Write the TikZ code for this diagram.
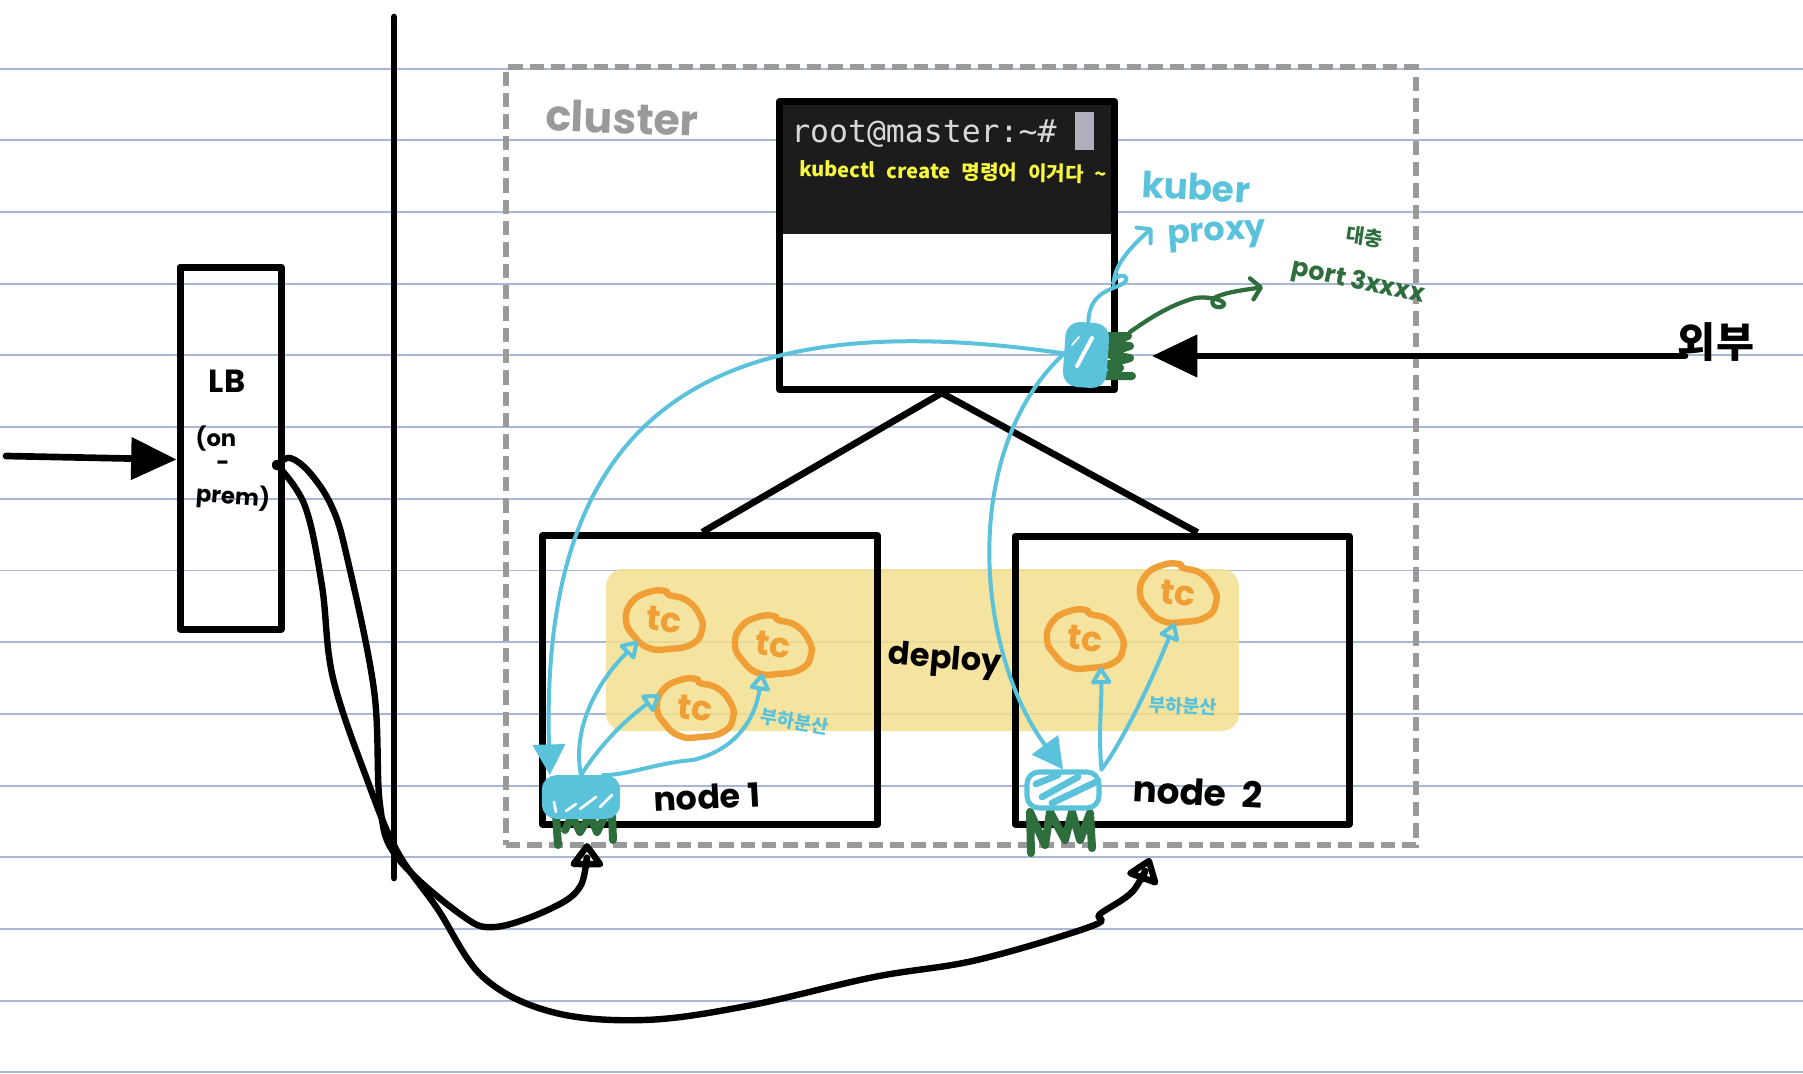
\documentclass[tikz,border=0pt]{standalone}
\usepackage{fontspec}
\setmainfont{Poppins}
\newfontfamily\krfont{Noto Sans CJK KR}
\newfontfamily\termfont{DejaVu Sans Mono}
\usetikzlibrary{arrows.meta,shapes.geometric}
\definecolor{ruleblue}{HTML}{A9B7D6}
\definecolor{clustergrey}{HTML}{9A9A9A}
\definecolor{termdark}{HTML}{1C1C1C}
\definecolor{termtext}{HTML}{D8D8D8}
\definecolor{cursorgrey}{HTML}{B0B0BC}
\definecolor{deployyellow}{HTML}{F3DF8E}
\definecolor{inkblue}{HTML}{5BC2DC}
\definecolor{inkgreen}{HTML}{2E6E3C}
\definecolor{inkorange}{HTML}{EF9F35}
\definecolor{inkyellow}{HTML}{F8F83E}
\tikzset{
  notebook/.style={ruleblue,line width=1.4pt},
  boxline/.style={draw=black,line width=5.25pt,line join=round,rectangle,inner sep=0pt},
  blackink/.style={black,line width=4.8pt,line cap=round,line join=round},
  heavyline/.style={black,line width=5pt,line cap=round},
  blueink/.style={inkblue,line width=3pt,line cap=round,line join=round},
  greenink/.style={inkgreen,line width=3.2pt,line cap=round,line join=round},
  greenfill/.style={inkgreen,line width=6pt,line cap=round,line join=round},
  podline/.style={inkorange,line width=4.8pt,line join=round},
  podnode/.style={ellipse,minimum width=57pt,minimum height=45pt,inner sep=0pt,text=inkorange,font=\bfseries\fontsize{26}{26}\selectfont,rotate=-6},
  proxybox/.style={rectangle,draw=inkblue,line width=3.8pt,rounded corners=9pt,inner sep=0pt},
  hand/.style={inner sep=0pt,font=\bfseries},
  openblue/.style={-{Triangle[open,length=14pt,width=17pt,round]}},
  barbblue/.style={-{Straight Barb[length=7pt,width=16pt,round]}},
  bigblue/.style={-{Triangle[length=23pt,width=24pt]}},
  bigblack/.style={-{Triangle[length=34pt,width=31pt]}},
  openblack/.style={-{Triangle[open,length=20pt,width=28pt,round]}},
}
\newcommand{\podblob}[3]{%
  \begin{scope}[shift={(#1,#2)}]
    \draw[podline] plot[smooth cycle,tension=.85] coordinates {(-38,0)(-32,-18)(-15,-28)(1,-29)(5,-25)(22,-20)(35,-6)(38,10)(28,24)(5,29)(-15,28)(-30,16)};
  \end{scope}
  \node[podnode] (#3) at (#1,#2) {tc};}
\begin{document}
\begin{tikzpicture}[x=.75pt,y=-.75pt]
\useasboundingbox (0,0) rectangle (1803,1074);
% notebook rules
\foreach \k in {0,...,14} \draw[notebook] (0,{68.6+71.7*\k}) -- (1803,{68.6+71.7*\k});
% deploy band
\fill[deployyellow,opacity=.85,rounded corners=13pt] (606,569) rectangle (1239,731);
% cluster
\node[rectangle,draw=clustergrey,line width=4.2pt,dash pattern=on 10.8pt off 5.2pt,inner sep=0pt,minimum width=682.5pt,minimum height=583.5pt] (cluster) at (961,456) {};
\node[hand,text=clustergrey,rotate=-2,font=\bfseries\fontsize{32}{32}\selectfont] (clusterlabel) at (622,118) {cluster};
% LB and partition
\node[boxline,minimum width=75.75pt,minimum height=271.5pt] (lb) at (230.5,448) {};
\coordinate (partitiontop) at (394,17);
\coordinate (partitionbottom) at (394,878);
\draw[heavyline] (partitiontop) -- (partitionbottom);
\node[hand,font=\bfseries\fontsize{24}{24}\selectfont] (lblabel) at (227,381) {LB};
\node[hand,font=\fontsize{17}{17}\selectfont\bfseries] (lbon) at (216,439) {(on};
\node[hand,font=\fontsize{17}{17}\selectfont\bfseries] (lbdash) at (223,466) {-};
\node[hand,font=\fontsize{17}{17}\selectfont\bfseries,rotate=-4] (lbprem) at (233,497) {prem)};
% terminal
\fill[termdark] (782,104) rectangle (1112,234);
\fill[cursorgrey] (1075,112) rectangle (1094,150);
\node[inner sep=0pt,anchor=west,text=termtext,font=\termfont\fontsize{23.6}{24}\selectfont] (prompt) at (791,134) {root@master:\textasciitilde\#};
\node[inner sep=0pt,anchor=west,text=inkyellow,font=\krfont\bfseries\fontsize{15}{15}\selectfont,rotate=-1] (cmd) at (799,169) {\spaceskip=8.5pt kubectl create 명령어 이거다 \textasciitilde};
\node[boxline,minimum width=251.25pt,minimum height=216pt] (master) at (947,245.5) {};
% worker boxes
\node[boxline,minimum width=251.25pt,minimum height=216.5pt] (node1) at (710,680) {};
\node[boxline,minimum width=250.5pt,minimum height=216pt] (node2) at (1182,680) {};
\draw[black,line width=5pt] (master.268) -- (node1.93);
\draw[black,line width=5pt] (master.268) -- (node2.84);
\node[hand,font=\bfseries\fontsize{24}{24}\selectfont,rotate=-5] (deploy) at (945,661) {deploy};
\node[hand,font=\bfseries\fontsize{25}{25}\selectfont,rotate=3] (node1label) at (707,797) {node 1};
\node[hand,font=\bfseries\fontsize{27}{27}\selectfont,rotate=-3] (node2label) at (1198,792) {node\hspace{6pt} 2};
% pods
\podblob{664}{620}{pod1}
\podblob{773}{645}{pod2}
\podblob{695}{708}{pod3}
\podblob{1085}{639}{pod4}
\podblob{1178}{593}{pod5}
% green port scribbles
\draw[greenfill] (558,845) -- (556,815) -- (612,815) -- (613,840);
\draw[greenfill] (565,830) -- (572,816) -- (580,832) -- (590,815) -- (597,832) -- (605,816);
\draw[greenfill] (1031,853) -- (1030,812) -- (1045,845) -- (1050,812) -- (1065,840) -- (1072,812) -- (1080,840) -- (1090,813) -- (1092,848);
\draw[greenfill] (1106,336) -- (1128,336) -- (1106,344) -- (1130,346) -- (1106,354) -- (1130,358) -- (1106,365) -- (1120,368) -- (1106,376) -- (1132,376);
% kube-proxy marks
\node[proxybox,fill=inkblue,minimum width=55pt,minimum height=29pt] (kp1) at (581,797) {};
\draw[white,line width=2pt,line cap=round] (556,812) -- (554,802) (566,811) -- (576,804) (580,809) -- (596,797) (600,807) -- (612,795);
\node[proxybox,fill=white,minimum width=54pt,minimum height=27pt] (kp2) at (1063,790) {};
\draw[inkblue,line width=5pt,line cap=round] (1036,784) -- (1058,775) (1042,797) -- (1078,777) (1052,803) -- (1098,781);
\node[proxybox,fill=inkblue,minimum width=29pt,minimum height=45pt,rotate=-4] (kp0) at (1086,355) {};
\draw[white,line width=3pt,line cap=round] (1077,366) -- (1092,338);
\draw[white,line width=1.2pt,line cap=round] (1072,345) -- (1079,337);
% blue connectors
\draw[blueink,bigblue] (kp0.west) .. controls (700,300) and (540,420) .. ([xshift=6pt]kp1.north west);
\draw[blueink,bigblue] (kp0.west) .. controls (960,450) and (975,650) .. (kp2.north);
\draw[blueink,openblue] (kp1.north) .. controls (573,735) and (590,690) .. (pod1.225);
\draw[blueink,openblue] (kp1.north) .. controls (600,745) and (625,720) .. (pod3.165);
\draw[blueink,openblue] (kp1.45) .. controls (630,775) and (655,763) .. (693,760) .. controls (735,750) and (755,720) .. (pod2.255);
\draw[blueink,openblue] (kp2.north east) .. controls (1098,735) and (1102,700) .. (pod4.-55);
\draw[blueink,openblue] (kp2.north east) .. controls (1120,745) and (1148,690) .. (pod5.south);
% kube-proxy labels
\coordinate (kuberend) at (1152,228);
\coordinate (portend) at (1263,287);
\draw[blueink,barbblue] (kp0.north) .. controls (1089,296) and (1106,291) .. (1118,286) .. controls (1130,282) and (1128,274) .. (1120,276) .. controls (1112,278) and (1112,290) .. (1114,280) .. controls (1116,262) and (1134,244) .. (kuberend);
\draw[greenink,barbblue] (1130,332) .. controls (1150,318) and (1170,305) .. (1195,298) .. controls (1208,296) and (1226,300) .. (1224,305) .. controls (1220,310) and (1208,306) .. (1214,298) .. controls (1225,292) and (1245,290) .. (portend);
\node[hand,text=inkblue,font=\bfseries\fontsize{27}{27}\selectfont,rotate=-3] (kuberlabel) at (1196,187) {kuber};
\node[hand,text=inkblue,font=\bfseries\fontsize{25}{25}\selectfont,rotate=4] (proxylabel) at (1217,236) {proxy};
\node[hand,text=inkgreen,font=\bfseries\fontsize{19}{19}\selectfont,rotate=-12] (portlabel) at (1358,283) {port 3xxxx};
\node[hand,text=inkgreen,font=\krfont\bfseries\fontsize{15}{15}\selectfont,rotate=-8] (roughlabel) at (1365,237) {대충};
\node[hand,text=inkblue,font=\krfont\bfseries\fontsize{14}{14}\selectfont,rotate=-10] (lb1label) at (795,722) {부하분산};
\node[hand,text=inkblue,font=\krfont\bfseries\fontsize{14}{14}\selectfont,rotate=-3] (lb2label) at (1183,706) {부하분산};
% black connectors
\coordinate (inlb) at (6,456);
\draw[heavyline,bigblack] (inlb) -- (lb.192);
\node[hand,font=\krfont\bfseries\fontsize{31}{31}\selectfont] (ext) at (1716,342) {외부};
\coordinate (extstart) at (1685,356);
\coordinate (mastertip) at (1152,356);
\draw[heavyline,bigblack] (extstart) -- (mastertip);
\coordinate (lbout) at (277,465);
\draw[blackink] (lbout) circle (1.5pt);
\coordinate (tipnode1) at (587,843);
\coordinate (tipnode2) at (1150,858);
\draw[blackink,openblack] plot[smooth,tension=.6] coordinates {(lbout) (290,458) (310,473) (332,507) (347,557) (374,690) (380,805) (397,857) (460,914) (495,927) (552,908) (581,885) (tipnode1)};
\draw[blackink,openblack] plot[smooth,tension=.6] coordinates {(lbout) (305,506) (322,586) (333,678) (368,782) (397,851) (437,908) (483,977) (552,1012) (644,1020) (747,1006) (874,977) (977,960) (1092,926) (1100,914) (1133,891) (tipnode2)};
\end{tikzpicture}
\end{document}
